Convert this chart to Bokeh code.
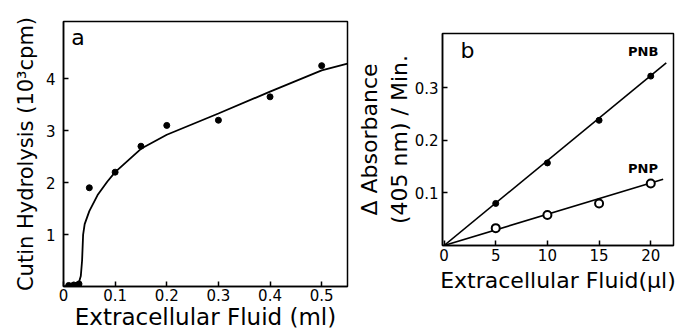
from bokeh.plotting import figure
from bokeh.layouts import row, column, Spacer
from bokeh.models import FixedTicker, Label, Range1d
from bokeh.embed import file_html
from bokeh.resources import INLINE

FONT = "DejaVu Sans"

# Panel a data
a_x = [0.01, 0.02, 0.03, 0.05, 0.1, 0.15, 0.2, 0.3, 0.4, 0.5]
a_y = [0.02, 0.03, 0.05, 1.9, 2.2, 2.7, 3.1, 3.2, 3.65, 4.25]
a_curve_x = [0.0, 0.02, 0.03, 0.0335, 0.036, 0.038, 0.041, 0.05, 0.066, 0.085, 0.1, 0.15, 0.2, 0.3, 0.4, 0.5, 0.55]
a_curve_y = [0.0, 0.02, 0.08, 0.2, 0.5, 1.0, 1.2, 1.45, 1.76, 2.02, 2.2, 2.65, 2.92, 3.33, 3.75, 4.16, 4.29]
a_xticks = [0, 0.1, 0.2, 0.3, 0.4, 0.5]
a_yticks = [1, 2, 3, 4]

# Panel b data
b_x = [5, 10, 15, 20]
pnb_y = [0.08, 0.157, 0.238, 0.322]
pnp_y = [0.033, 0.058, 0.08, 0.118]
pnb_line_x = [0, 21.5]
pnb_line_y = [0, 0.347]
pnp_line_x = [0, 21.2]
pnp_line_y = [0, 0.126]
b_xticks = [0, 5, 10, 15, 20]
b_yticks = [0.1, 0.2, 0.3]


def style(p, xticks, yticks, xfmt, yfmt):
    p.grid.visible = False
    p.outline_line_color = "black"
    p.outline_line_width = 1.5
    for ax in (p.xaxis[0], p.yaxis[0]):
        ax.axis_line_width = 1.5
        ax.major_tick_in = 5
        ax.major_tick_out = 0
        ax.major_tick_line_width = 1.5
        ax.minor_tick_line_color = None
        ax.major_label_text_font = FONT
        ax.major_label_text_font_size = "15px"
        ax.major_label_text_color = "black"
        ax.axis_label_text_font = FONT
        ax.axis_label_text_font_size = "22px"
        ax.axis_label_text_font_style = "normal"
        ax.axis_label_text_color = "black"
    p.xaxis[0].ticker = FixedTicker(ticks=xticks)
    p.yaxis[0].ticker = FixedTicker(ticks=yticks)
    p.xaxis[0].major_label_overrides = {t: xfmt(t) for t in xticks}
    p.yaxis[0].major_label_overrides = {t: yfmt(t) for t in yticks}


pa = figure(frame_width=284, frame_height=265, min_border_left=63, min_border_right=3,
            min_border_top=21, min_border_bottom=47, output_backend="svg",
            toolbar_location=None, x_range=Range1d(0, 0.55), y_range=Range1d(0, 5.1))
style(pa, a_xticks, a_yticks, lambda t: "0" if t == 0 else f"{t:.1f}", lambda t: str(t))
pa.xaxis[0].axis_label = "Extracellular Fluid (ml)"
pa.xaxis[0].axis_label_text_font_size = "23px"
pa.yaxis[0].axis_label = "Cutin Hydrolysis (10³cpm)"
pa.yaxis[0].axis_label_text_font_size = "21px"
pa.xaxis[0].major_label_standoff = 2
pa.xaxis[0].axis_label_standoff = 0
pa.yaxis[0].major_label_standoff = 8
pa.yaxis[0].axis_label_standoff = 5
pa.line(a_curve_x, a_curve_y, line_color="black", line_width=1.8)
pa.scatter(a_x, a_y, size=6, color="black")
pa.add_layout(Label(x=0.015, y=4.55, text="a", text_font=FONT, text_font_size="22px",
                    text_color="black"))

pb = figure(frame_width=231, frame_height=212, min_border_left=92, min_border_right=6,
            min_border_top=21, min_border_bottom=88, output_backend="svg",
            toolbar_location=None, x_range=Range1d(-0.15, 22.2), y_range=Range1d(0, 0.403))
style(pb, b_xticks, b_yticks, lambda t: str(t), lambda t: f"{t:.1f}")
pb.xaxis[0].axis_label = "Extracellular Fluid(µl)"
pb.yaxis[0].axis_label = "Δ Absorbance\n(405 nm) / Min."
pb.xaxis[0].major_label_standoff = 3
pb.xaxis[0].axis_label_standoff = 4
pb.yaxis[0].major_label_standoff = 4
pb.yaxis[0].axis_label_standoff = 0
pb.line(pnb_line_x, pnb_line_y, line_color="black", line_width=1.6)
pb.line(pnp_line_x, pnp_line_y, line_color="black", line_width=1.6)
pb.scatter(b_x, pnb_y, size=6, color="black")
pb.scatter(b_x, pnp_y, size=8, fill_color="white", line_color="black", line_width=2)
pb.add_layout(Label(x=1.6, y=0.346, text="b", text_font=FONT, text_font_size="22px",
                    text_color="black"))
pb.add_layout(Label(x=17.8, y=0.355, text="PNB", text_font=FONT, text_font_size="13px",
                    text_font_style="bold", text_color="black"))
pb.add_layout(Label(x=17.8, y=0.133, text="PNP", text_font=FONT, text_font_size="13px",
                    text_font_style="bold", text_color="black"))

layout = row(pa, column(Spacer(width=329, height=12), pb), spacing=0)
open("out.html", "w").write(file_html(layout, INLINE))
